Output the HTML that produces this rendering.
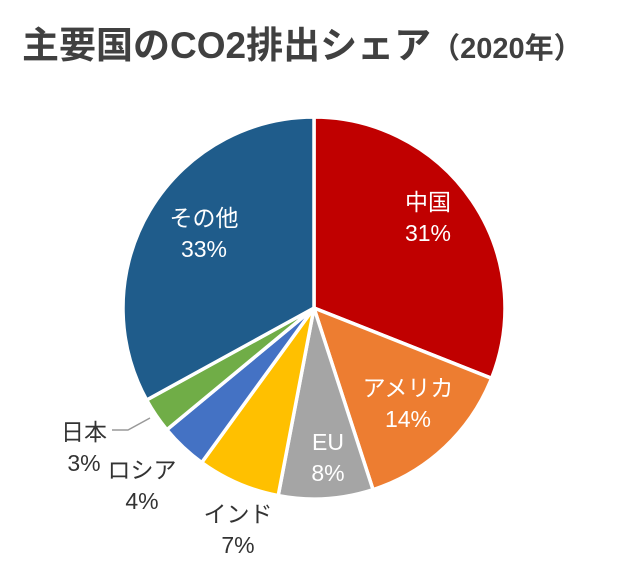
<!DOCTYPE html>
<html><head><meta charset="utf-8"><style>
body{margin:0;background:#fff;width:640px;height:564px;overflow:hidden;font-family:"Liberation Sans","Noto Sans CJK JP",sans-serif}
</style></head><body>
<svg width="640" height="564">
<text x="22" y="58" fill="#404040" font-weight="bold" font-size="37" font-family="Liberation Sans,Noto Sans CJK JP,sans-serif">主要国のCO2排出シェア<tspan font-size="29" font-weight="bold">（2020年）</tspan></text>
<g id="pie"></g>
</svg>
<script>
const categories=["中国","アメリカ","EU","インド","ロシア","日本","その他"];
const values=[31,14,8,7,4,3,33];
const colors=["#C00000","#ED7D31","#A5A5A5","#FFC000","#4472C4","#70AD47","#1F5C8B"];
const cx=314,cy=308,r=191;
const g=document.getElementById('pie');
const NS="http://www.w3.org/2000/svg";
const total=values.reduce((a,b)=>a+b,0);
function pt(a,rr){return [cx+rr*Math.sin(a),cy-rr*Math.cos(a)];}
let acc=0;
const labelPos=[[428,210,1],[408,396,1],[328,450,1],[238,522,0],[142,478,0],[84,440,0],[204,226,1]];
values.forEach((v,i)=>{
 const a0=acc/total*2*Math.PI; acc+=v; const a1=acc/total*2*Math.PI;
 const p0=pt(a0,r),p1=pt(a1,r);
 const path=document.createElementNS(NS,'path');
 path.setAttribute('d',`M${cx},${cy}L${p0[0]},${p0[1]}A${r},${r} 0 ${a1-a0>Math.PI?1:0} 1 ${p1[0]},${p1[1]}Z`);
 path.setAttribute('fill',colors[i]);path.setAttribute('stroke','#fff');path.setAttribute('stroke-width','3.5');
 
 
 g.appendChild(path);
 const lp=labelPos[i];
 const t=document.createElementNS(NS,'text');
 t.setAttribute('x',lp[0]);t.setAttribute('y',lp[1]);t.setAttribute('text-anchor','middle');
 t.setAttribute('fill',lp[2]?'#fff':'#333');t.setAttribute('font-size','23');
 
 
 const s1=document.createElementNS(NS,'tspan');s1.setAttribute('x',lp[0]);s1.textContent=categories[i];
 const s2=document.createElementNS(NS,'tspan');s2.setAttribute('x',lp[0]);s2.setAttribute('dy','31');s2.textContent=v+'%';
 t.appendChild(s1);t.appendChild(s2);g.appendChild(t);
});
const ln=document.createElementNS(NS,'polyline');
ln.setAttribute('points','112,430 128,430 150,418');ln.setAttribute('fill','none');ln.setAttribute('stroke','#999');ln.setAttribute('stroke-width','1.5');


g.appendChild(ln);
</script>
</body></html>
